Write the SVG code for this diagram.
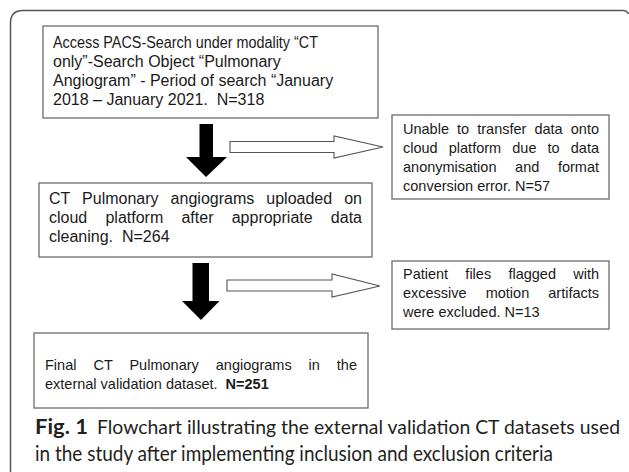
<svg xmlns="http://www.w3.org/2000/svg" width="629" height="472" viewBox="0 0 629 472">
<style>
.box{fill:#fff;stroke:#6b6b6b;stroke-width:1.3}
.t16{font-family:"Liberation Sans",Arial,sans-serif;font-size:16px;fill:#1a1a1a}
.t14{font-family:"Liberation Sans",Arial,sans-serif;font-size:14.5px;fill:#1a1a1a}
.cap{font-family:Lato,"Open Sans",sans-serif;font-size:20.5px;fill:#231f20}
.solid{fill:#000}
.hollow{fill:#fff;stroke:#555;stroke-width:1.1}
</style>
<rect width="629" height="472" fill="#fff"/>
<path d="M10.5,472 V23 Q10.5,10.5 23,10.5 H623 Q627,10.5 628.5,14" fill="none" stroke="#555" stroke-width="1.5"/>

<g id="connectors">
<polygon class="solid" points="199.5,124 213,124 213,157 227,157 206,177 186,157 199.5,157"/>
<polygon class="hollow" points="230,141.5 334,141.5 334,136 383,147 334,158 334,152.5 230,152.5"/>
<polygon class="solid" points="192.5,263 209,263 209,301 219.5,301 201,320 182,301 192.5,301"/>
<polygon class="hollow" points="227,280 332,280 332,274 380,286 332,297 332,291 227,291"/>
</g>

<g id="node-search">
<rect class="box" x="43" y="26" width="335" height="92"/>
<text class="t16" x="53" y="48" textLength="265" lengthAdjust="spacingAndGlyphs">Access PACS-Search under modality “CT</text>
<text class="t16" x="53" y="67">only”-Search Object “Pulmonary</text>
<text class="t16" x="53" y="86">Angiogram” - Period of search “January</text>
<text class="t16" x="53" y="105" xml:space="preserve">2018 – January 2021.  N=318</text>
</g>

<g id="node-uploaded">
<rect class="box" x="39" y="183" width="333" height="74"/>
<text class="t16" x="49" y="204" style="word-spacing:7.55px" textLength="313" lengthAdjust="spacing">CT Pulmonary angiograms uploaded on</text>
<text class="t16" x="49" y="223" style="word-spacing:13.8px" textLength="313" lengthAdjust="spacing">cloud platform after appropriate data</text>
<text class="t16" x="49" y="242" xml:space="preserve">cleaning.  N=264</text>
</g>

<g id="node-excluded-transfer">
<rect class="box" x="392" y="115" width="217" height="84"/>
<text class="t14" x="403" y="134" style="word-spacing:4.07px" textLength="196" lengthAdjust="spacing">Unable to transfer data onto</text>
<text class="t14" x="403" y="153" style="word-spacing:7.1px" textLength="196" lengthAdjust="spacing">cloud platform due to data</text>
<text class="t14" x="403" y="172" style="word-spacing:14.6px" textLength="196" lengthAdjust="spacing">anonymisation and format</text>
<text class="t14" x="403" y="191">conversion error. N=57</text>
</g>

<g id="node-excluded-motion">
<rect class="box" x="392" y="261" width="217" height="68"/>
<text class="t14" x="403" y="279" style="word-spacing:13.2px" textLength="196" lengthAdjust="spacing">Patient files flagged with</text>
<text class="t14" x="403" y="298" style="word-spacing:15px" textLength="196" lengthAdjust="spacing">excessive motion artifacts</text>
<text class="t14" x="403" y="317">were excluded. N=13</text>
</g>

<g id="node-final">
<rect class="box" x="34" y="333" width="334" height="75"/>
<text class="t14" x="45" y="370" style="word-spacing:12.9px" textLength="312" lengthAdjust="spacing">Final CT Pulmonary angiograms in the</text>
<text class="t14" x="45" y="389" xml:space="preserve">external validation dataset.  <tspan font-weight="bold">N=251</tspan></text>
</g>

<g id="caption">
<text class="cap" x="35" y="434" font-weight="bold" textLength="53" lengthAdjust="spacingAndGlyphs">Fig. 1</text>
<text class="cap" x="97" y="434" style="font-size:19px" textLength="523" lengthAdjust="spacingAndGlyphs">Flowchart illustrating the external validation CT datasets used</text>
<text class="cap" x="35" y="461" textLength="518" lengthAdjust="spacingAndGlyphs">in the study after implementing inclusion and exclusion criteria</text>
</g>
</svg>
